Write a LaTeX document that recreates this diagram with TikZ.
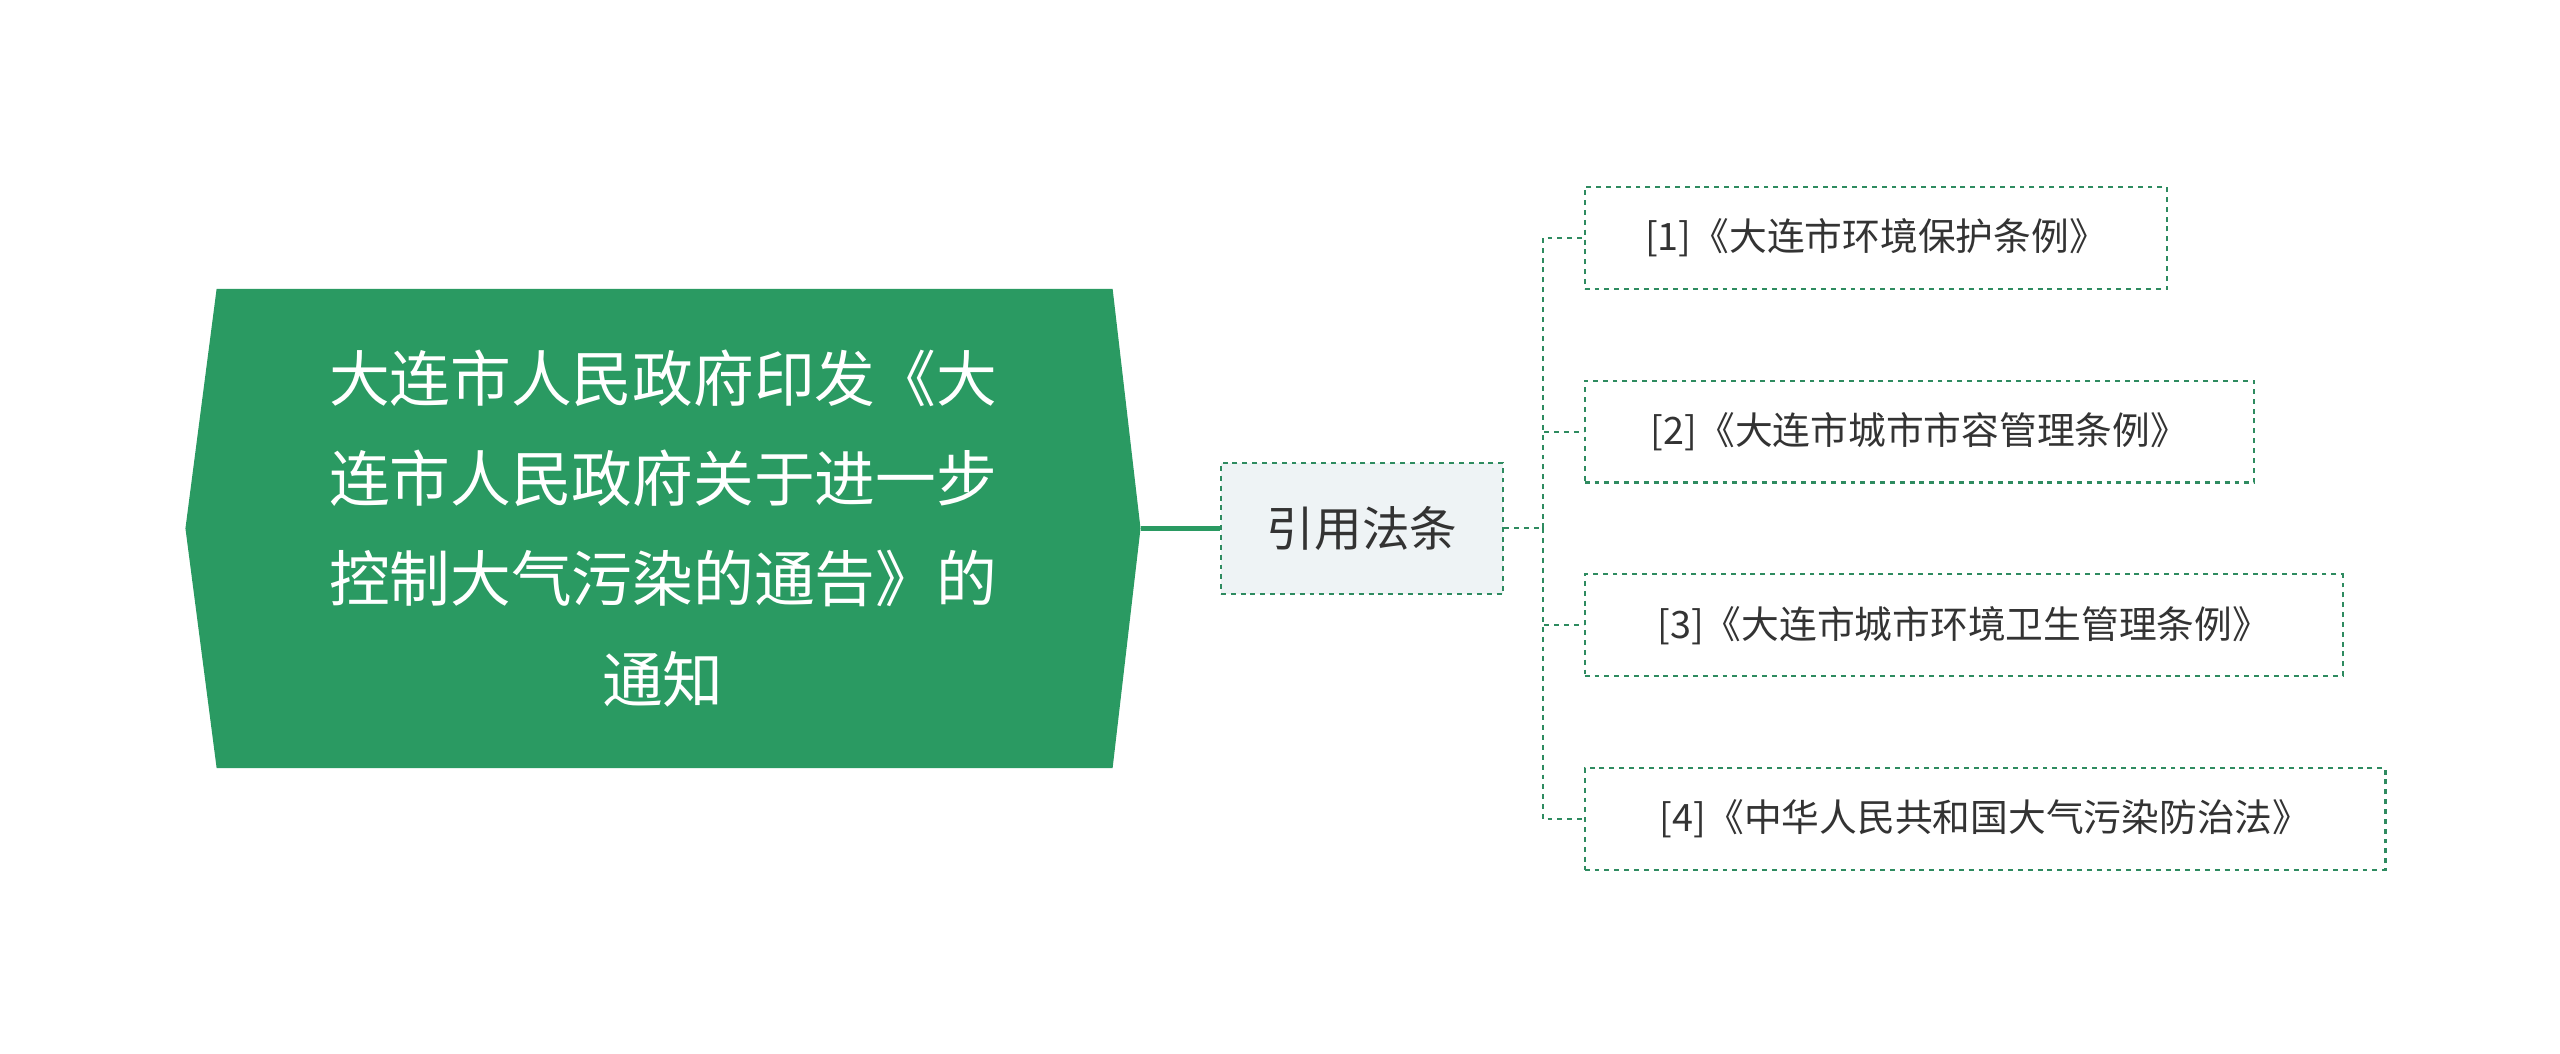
\documentclass[tikz,border=0pt]{standalone}
\usepackage{fontspec}
\setmainfont{Noto Sans CJK SC}
\definecolor{mgreen}{HTML}{2A9A62}
\definecolor{dgreen}{HTML}{2E8B60}
\definecolor{midfill}{HTML}{EEF3F5}
\definecolor{txt}{HTML}{333333}
\begin{document}
\begin{tikzpicture}[x=1pt,y=-1pt,
  leaf/.style={draw=dgreen,dashed,line width=1.3pt,anchor=west,minimum height=62pt,inner xsep=14pt,font=\fontsize{23}{28}\selectfont,text=txt},
  conn/.style={draw=dgreen,dashed,line width=1.3pt}]
\useasboundingbox (0,0) rectangle (1560,642);
\fill[mgreen] (132,176) -- (678,176) -- (695,322) -- (678,468) -- (132,468) -- (113,322) -- cycle;
\node (main) at (404,322) [align=center,text=white,font=\fontsize{37}{61}\selectfont] {大连市人民政府印发《大\\连市人民政府关于进一步\\控制大气污染的通告》的\\通知};
\coordinate (mr) at (695,322);
\node (mid) [draw=dgreen,dashed,line width=1.3pt,fill=midfill,minimum width=172pt,minimum height=80pt,font=\fontsize{29}{34}\selectfont,text=txt] at (830,322) {引用法条};
\draw[mgreen,line width=3pt] (mr) -- (mid.west);
\node (l1) [leaf,minimum width=355pt] at (965,145) {[1]《大连市环境保护条例》};
\node (l2) [leaf,minimum width=408pt] at (965,263) {[2]《大连市城市市容管理条例》};
\node (l3) [leaf,minimum width=462pt] at (965,381) {[3]《大连市城市环境卫生管理条例》};
\node (l4) [leaf,minimum width=488pt] at (965,499) {[4]《中华人民共和国大气污染防治法》};
\coordinate (j) at (940,322);
\draw[conn] (mid.east) -- (j);
\foreach \n in {l1,l2,l3,l4} \draw[conn] (j) |- (\n.west);
\end{tikzpicture}
\end{document}
